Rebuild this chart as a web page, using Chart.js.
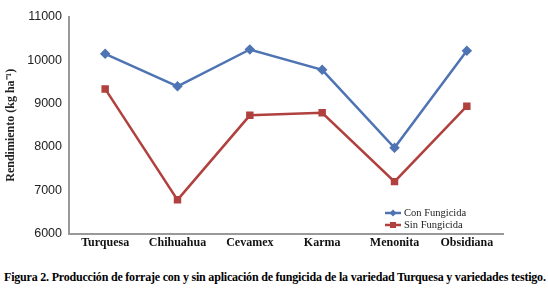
<!DOCTYPE html>
<html>
<head>
<meta charset="utf-8">
<script src="https://cdn.jsdelivr.net/npm/chart.js@4.4.1/dist/chart.umd.min.js"></script>
<style>
  body { margin: 0; background: #fff; }
  #wrap { position: relative; width: 548px; height: 252px; }
  #caption {
    font-family: "Liberation Serif", serif;
    font-weight: bold;
    font-size: 12px;
    margin: 18px 0 0 4px;
    white-space: nowrap;
    letter-spacing: -0.2px;
  }
</style>
</head>
<body>
<div id="wrap"><canvas id="chart"></canvas></div>
<div id="caption">Figura 2. Producción de forraje con y sin aplicación de fungicida de la variedad Turquesa y variedades testigo.</div>
<script>
const categories = ["Turquesa", "Chihuahua", "Cevamex", "Karma", "Menonita", "Obsidiana"];
const conFungicida = [10150, 9400, 10250, 9780, 7980, 10220];
const sinFungicida = [9340, 6780, 8730, 8790, 7200, 8940];
const yTicks = [6000, 7000, 8000, 9000, 10000, 11000];

const blue = "#4F74B4";
const red = "#B0413E";

// legend drawn inside the plot, lower right
const legendPlugin = {
  id: "innerLegend",
  afterDraw(chart) {
    const ctx = chart.ctx;
    const items = [
      { label: "Con Fungicida", color: blue, style: "rectRot" },
      { label: "Sin Fungicida", color: red, style: "rect" }
    ];
    ctx.save();
    ctx.font = "10.5px 'Liberation Serif', serif";
    ctx.textBaseline = "middle";
    items.forEach((it, i) => {
      const x = 385, y = 213 + i * 12;
      ctx.strokeStyle = it.color;
      ctx.lineWidth = 2.5;
      ctx.beginPath();
      ctx.moveTo(x, y);
      ctx.lineTo(x + 16, y);
      ctx.stroke();
      ctx.fillStyle = it.color;
      if (it.style === "rect") {
        ctx.fillRect(x + 5, y - 3, 6, 6);
      } else {
        ctx.beginPath();
        ctx.moveTo(x + 8, y - 3.5);
        ctx.lineTo(x + 11.5, y);
        ctx.lineTo(x + 8, y + 3.5);
        ctx.lineTo(x + 4.5, y);
        ctx.closePath();
        ctx.fill();
      }
      ctx.fillStyle = "#222";
      ctx.fillText(it.label, x + 19, y);
    });
    ctx.restore();
  }
};

new Chart(document.getElementById("chart"), {
  type: "line",
  data: {
    labels: categories,
    datasets: [
      {
        label: "Con Fungicida",
        data: conFungicida,
        borderColor: blue,
        backgroundColor: blue,
        borderWidth: 2.5,
        pointStyle: "rectRot",
        pointRadius: 3.5,
        tension: 0
      },
      {
        label: "Sin Fungicida",
        data: sinFungicida,
        borderColor: red,
        backgroundColor: red,
        borderWidth: 2.5,
        pointStyle: "rect",
        pointRadius: 3.5,
        tension: 0
      }
    ]
  },
  options: {
    responsive: true,
    maintainAspectRatio: false,
    animation: false,
    layout: { padding: { top: 17, right: 45, left: 4, bottom: 0 } },
    plugins: { legend: { display: false }, tooltip: { enabled: false } },
    scales: {
      x: {
        offset: true,
        grid: { display: false, drawTicks: false },
        border: { color: "#999", width: 2 },
        ticks: {
          color: "#111",
          padding: 2,
          maxRotation: 0,
          font: { family: "'Liberation Serif', serif", weight: "bold", size: 12 }
        }
      },
      y: {
        min: 6000,
        max: 11000,
        afterBuildTicks: (axis) => { axis.ticks = yTicks.map(v => ({ value: v })); },
        afterFit: (axis) => { axis.width = 65; },
        grid: { display: false, drawOnChartArea: false, drawTicks: true, tickLength: 4, tickColor: "#999" },
        border: { color: "#999", width: 2 },
        ticks: {
          color: "#222",
          padding: 3,
          callback: (v) => String(v),
          font: { family: "'Liberation Sans', sans-serif", size: 12.5 }
        },
        title: {
          display: true,
          text: "Rendimiento (kg ha⁻¹)",
          color: "#222",
          padding: { top: 0, bottom: 4 },
          font: { family: "'Liberation Serif', serif", weight: "bold", size: 12 }
        }
      }
    }
  },
  plugins: [legendPlugin]
});
</script>
</body>
</html>
